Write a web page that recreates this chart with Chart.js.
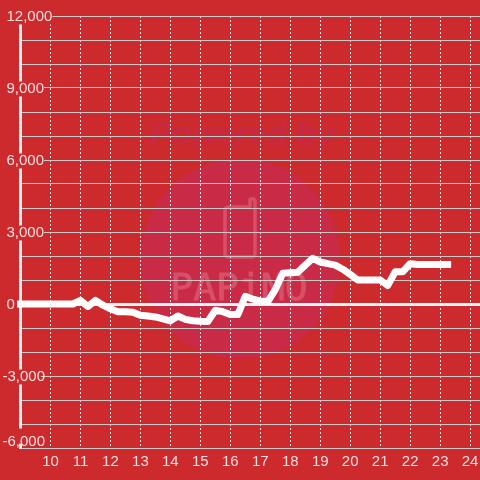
<!DOCTYPE html>
<html>
<head>
<meta charset="utf-8">
<style>html,body{margin:0;padding:0;background:#cd2a2e}#w{position:relative;width:480px;height:480px}</style>
<script src="https://cdn.jsdelivr.net/npm/chart.js@4"></script>
</head>
<body>
<div id="w"><canvas id="c" width="480" height="480"></canvas></div>
<script>
const hours = [9,9.25,9.5,9.75,10,10.25,10.5,10.75,11,11.25,11.5,11.75,12,12.25,12.5,12.75,13,13.25,13.5,13.75,14,14.25,14.5,14.75,15,15.25,15.5,15.75,16,16.25,16.5,16.75,17,17.25,17.5,17.75,18,18.25,18.5,18.75,19,19.25,19.5,19.75,20,20.25,20.5,20.75,21,21.25,21.5,21.75,22,22.25,22.5,22.75,23,23.25];
const values = [0,0,0,0,0,0,0,0,150,-100,150,-50,-200,-320,-320,-340,-470,-500,-540,-620,-700,-500,-640,-700,-720,-730,-260,-320,-440,-440,320,200,130,100,600,1280,1300,1320,1620,1900,1750,1680,1620,1450,1230,1000,1000,1000,1000,770,1340,1340,1680,1650,1650,1650,1650,1650];
const xTicks = [10,11,12,13,14,15,16,17,18,19,20,21,22,23,24];
const yLabelled = [12000,9000,6000,3000,0,-3000,-6000];
const watermarkTop = 'Powered by';
const watermarkBrand = 'PAPiMO';
const BG = '#cd2a2e';
const INK = 'rgba(255,255,255,0.85)';

const watermark = {
  id: 'watermark',
  beforeDraw(chart) {
    const g = chart.ctx;
    g.save();
    g.fillStyle = BG; g.fillRect(0,0,480,480);
    g.fillStyle = '#c92a46';
    g.beginPath(); g.arc(240,259,100,0,Math.PI*2); g.fill();
    g.fillStyle = '#c72a42';
    g.font = 'italic bold 33px "Liberation Sans"';
    g.textAlign = 'center'; g.textBaseline = 'middle';
    g.fillText(watermarkTop, 242, 136);
    g.strokeStyle = '#d85068'; g.lineWidth = 3.5; g.lineJoin = 'round'; g.lineCap = 'round';
    g.beginPath();
    g.moveTo(249,207); g.lineTo(228,207); g.arcTo(225,207,225,210,3); g.lineTo(225,253); g.arcTo(225,257,229,257,3);
    g.lineTo(251,257); g.arcTo(255,257,255,253,3); g.lineTo(255,201); g.arcTo(255,199,251,199,2); g.arcTo(250,199,250,207,1); g.lineTo(250,207);
    g.stroke();
    g.fillStyle = '#d85068'; g.strokeStyle = '#d85068'; g.lineWidth = 0.8;
    g.font = '38px "DejaVu Sans Mono"';
    g.fillText(watermarkBrand, 239, 290);
    g.strokeText(watermarkBrand, 239, 290);
    g.restore();
  }
};
const nudgeLabels = {
  id: 'nudgeLabels',
  beforeDraw(chart) {
    const items = chart.scales.y.getLabelItems();
    for (const item of items) {
      item.options.translation[1] += 1;
      if (String(item.label).startsWith('-')) {
        item.options.translation[0] -= 4;
        if (item.options.backdrop) item.options.backdrop.left -= 4;
      }
      if (item.label === yLabelled[yLabelled.length-1].toLocaleString('en-US')) {
        item.options.translation[1] -= 7;
        if (item.options.backdrop) item.options.backdrop.top -= 6;
      }
    }
  }
};

new Chart(document.getElementById('c'), {
  type: 'line',
  data: { datasets: [{
    data: hours.map((h,i)=>({x:h,y:values[i]})),
    borderColor:'#ffffff', borderWidth:7, pointRadius:0, tension:0,
    borderCapStyle:'square', borderJoinStyle:'round', clip:false
  }]},
  plugins:[watermark, nudgeLabels],
  options:{
    responsive:false, animation:false,
    layout:{padding:{left:6.5,top:16,right:0,bottom:0}},
    plugins:{legend:{display:false},tooltip:{enabled:false}},
    scales:{
      x:{
        type:'linear', min:9, max:24.33,
        afterBuildTicks(s){ s.ticks = xTicks.map(v=>({value:v})); },
        afterFit(s){ s.height = 32; s.paddingLeft = 0; s.paddingRight = 0; },
        grid:{color:'#e6e6e6',lineWidth:1,drawTicks:false},
        border:{display:false,dash:[2,2]},
        ticks:{autoSkip:false,maxRotation:0,padding:5,color:INK,font:{family:'"Liberation Sans"',size:15},callback:v=>String(v)}
      },
      y:{
        type:'linear', min:-6000, max:12000,
        afterFit(s){ s.width = 14; },
        grid:{
          color:c=>c.tick&&c.tick.value===0?'#f5f5f5':'#c9c9c9',
          lineWidth:c=>c.tick&&c.tick.value===0?3:1,
          drawTicks:false
        },
        border:{display:true,color:'#f0f0f0',width:3},
        ticks:{
          stepSize:1000,autoSkip:false,mirror:true,padding:-14,
          color:INK,font:{family:'"Liberation Sans"',size:15,lineHeight:1},
          backdropColor:BG,backdropPadding:0,
          showLabelBackdrop:c=>yLabelled.includes(c.tick.value),
          callback:v=>yLabelled.includes(v)?v.toLocaleString('en-US'):''
        }
      }
    }
  }
});
</script>
</body>
</html>
